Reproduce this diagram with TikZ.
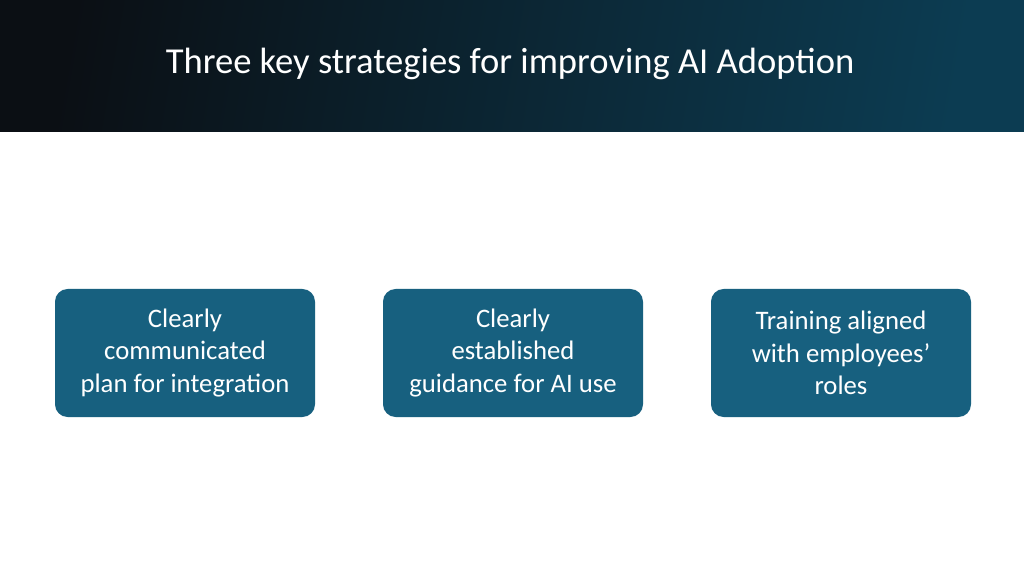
\documentclass[tikz,border=0pt]{standalone}
\usepackage{fontspec}
\setmainfont{Carlito}
\usetikzlibrary{positioning}
\definecolor{bandleft}{HTML}{0B0F14}
\definecolor{bandright}{HTML}{0C3C52}
\definecolor{boxfill}{HTML}{17607F}
\tikzset{
	stratbox/.style={fill=boxfill, rounded corners=9pt, minimum width=260*0.025cm, minimum height=128*0.025cm, text=white, align=center, font=\fontsize{19}{23}\selectfont, inner sep=0pt}
}
\begin{document}
\begin{tikzpicture}[x=0.025cm, y=-0.025cm]
		\useasboundingbox (0,0) rectangle (1024,576);
		\fill[white] (0,0) rectangle (1024,576);
		\shade[left color=bandleft, right color=bandright, shading angle=80] (0,0) rectangle (1024,132);
		\node (title) [text=white, font=\fontsize{26}{30}\selectfont] at (510,64) {Three key strategies for improving AI Adoption};
		
		\node (plan) [stratbox] at (185,353) {Clearly\\communicated\\plan for integration};
		\node (guide) [stratbox] at (513,353) {Clearly\\established\\guidance for AI use};
		\node (train) [stratbox] at (841,353) {Training aligned\\with employees’\\roles};
	\end{tikzpicture}
\end{document}
